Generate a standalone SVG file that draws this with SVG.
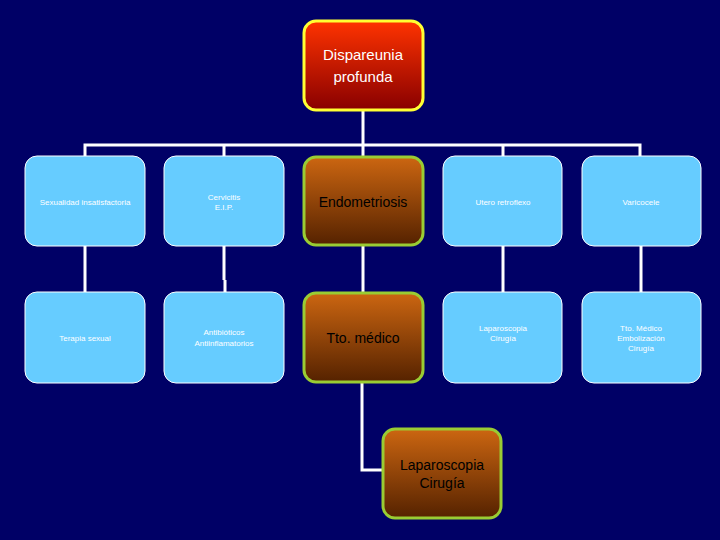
<svg xmlns="http://www.w3.org/2000/svg" width="720" height="540" viewBox="0 0 720 540">
<defs>
<linearGradient id="gTop" x1="0" y1="0" x2="0" y2="1"><stop offset="0" stop-color="#ff3300"/><stop offset="1" stop-color="#880000"/></linearGradient>
<linearGradient id="gBrown" x1="0" y1="0" x2="0" y2="1"><stop offset="0" stop-color="#cc6611"/><stop offset="1" stop-color="#552200"/></linearGradient>
<style>
.blue{fill:#66ccff;stroke:#ffffff;stroke-width:1}
.brown{fill:url(#gBrown);stroke:#99cc33;stroke-width:3}
.top{fill:url(#gTop);stroke:#ffff33;stroke-width:3}
.s{font-family:"Liberation Sans",Arial,sans-serif;font-size:8px;fill:#ffffff;text-anchor:middle}
.b{font-family:"Liberation Sans",Arial,sans-serif;font-size:14px;fill:#000000;text-anchor:middle}
.bw{font-family:"Liberation Sans",Arial,sans-serif;font-size:15px;fill:#ffffff;text-anchor:middle}
.c{fill:none;stroke:#ffffff;stroke-width:3}
</style>
</defs>
<rect width="720" height="540" fill="#000066"/>
<g id="connectors" class="c">
<path d="M363 111V145M85 156V145H640V156M224 145V156M503 145V156M363 145V156"/>
<path d="M85 246V292M224 246V280M225 280V292M363 246V292M503 246V292M641 246V292"/>
<path d="M362 383V470H383"/>
</g>
<g id="n0"><rect class="top" x="304" y="21" width="119" height="89" rx="12"/><text class="bw"><tspan x="363" y="60">Dispareunia</tspan><tspan x="363" y="82">profunda</tspan></text></g>
<g id="n1"><rect class="blue" x="25" y="156" width="120" height="90" rx="12"/><text class="s" x="85" y="205">Sexualidad insatisfactoria</text></g>
<g id="n2"><rect class="blue" x="164" y="156" width="120" height="90" rx="12"/><text class="s"><tspan x="224" y="200">Cervicitis</tspan><tspan x="224" y="210">E.I.P.</tspan></text></g>
<g id="n3"><rect class="brown" x="304" y="157" width="119" height="88" rx="12"/><text class="b" x="363" y="207">Endometriosis</text></g>
<g id="n4"><rect class="blue" x="443" y="156" width="119" height="90" rx="12"/><text class="s" x="503" y="205">Utero retroflexo</text></g>
<g id="n5"><rect class="blue" x="582" y="156" width="119" height="90" rx="12"/><text class="s" x="641" y="205">Varicocele</text></g>
<g id="n6"><rect class="blue" x="25" y="292" width="120" height="91" rx="12"/><text class="s" x="85" y="341">Terapia sexual</text></g>
<g id="n7"><rect class="blue" x="164" y="292" width="120" height="91" rx="12"/><text class="s"><tspan x="224" y="335">Antibióticos</tspan><tspan x="224" y="346">Antiinflamatorios</tspan></text></g>
<g id="n8"><rect class="brown" x="304" y="293" width="119" height="89" rx="12"/><text class="b" x="363" y="343">Tto. médico</text></g>
<g id="n9"><rect class="blue" x="443" y="292" width="119" height="91" rx="12"/><text class="s"><tspan x="503" y="331">Laparoscopia</tspan><tspan x="503" y="341">Cirugía</tspan></text></g>
<g id="n10"><rect class="blue" x="582" y="292" width="119" height="91" rx="12"/><text class="s"><tspan x="641" y="331">Tto. Médico</tspan><tspan x="641" y="341">Embolización</tspan><tspan x="641" y="351">Cirugía</tspan></text></g>
<g id="n11"><rect class="brown" x="383" y="429" width="118" height="89" rx="12"/><text class="b"><tspan x="442" y="470">Laparoscopia</tspan><tspan x="442" y="488">Cirugía</tspan></text></g>
</svg>
